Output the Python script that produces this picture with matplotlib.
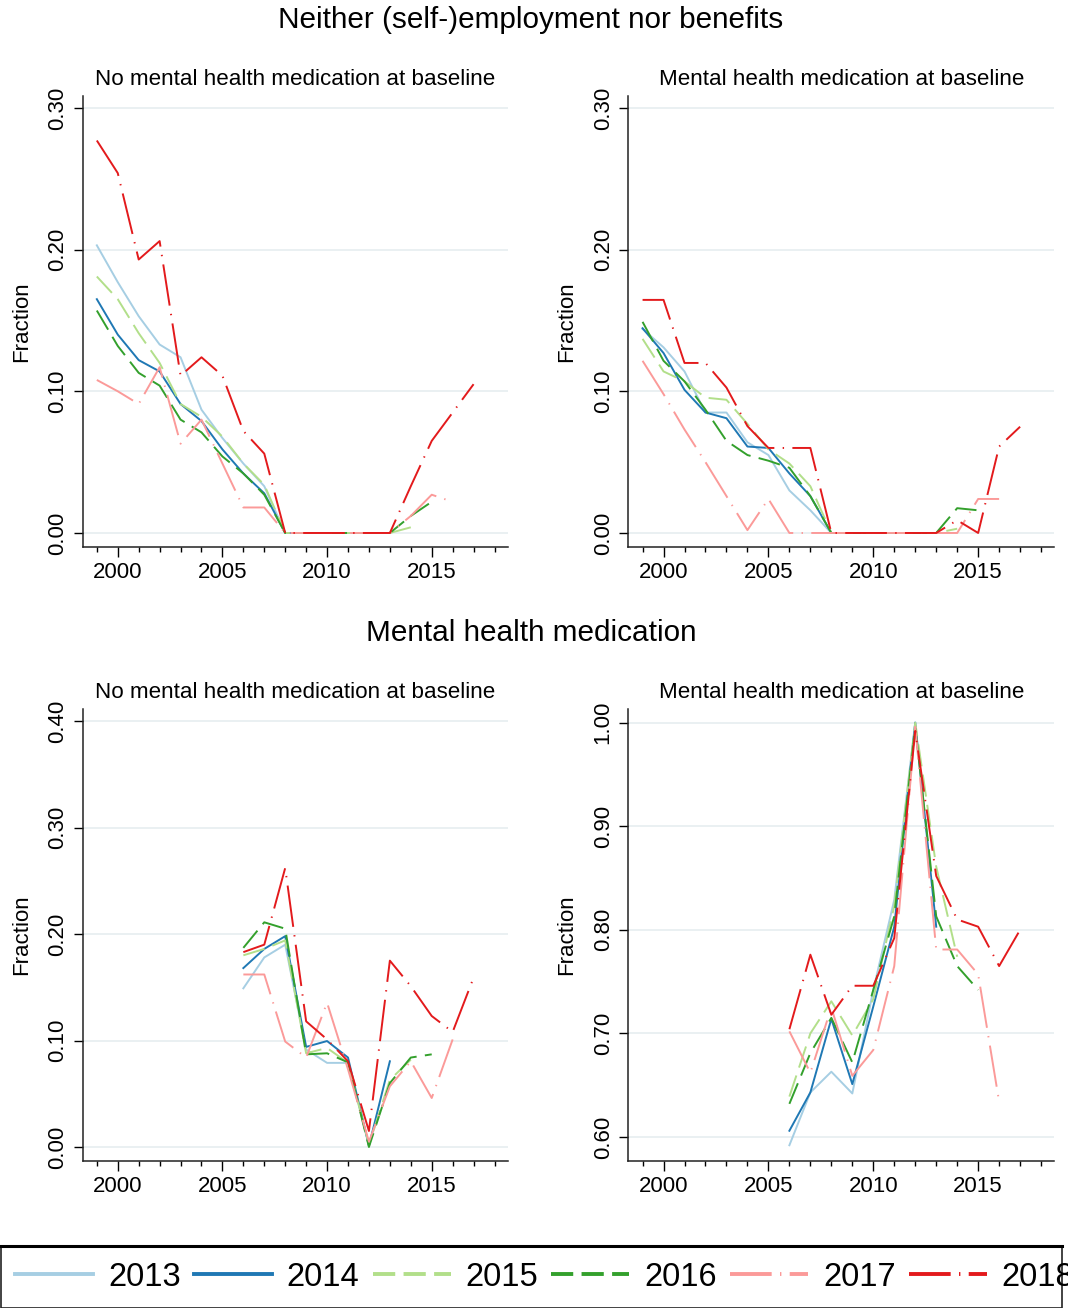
import numpy as np
import matplotlib
matplotlib.use("Agg")
import matplotlib.pyplot as plt
from matplotlib.lines import Line2D
from matplotlib.patches import Rectangle
from matplotlib.ticker import MultipleLocator, FormatStrFormatter

plt.rcParams['font.family'] = ['Liberation Sans', 'DejaVu Sans']
plt.rcParams['lines.scale_dashes'] = False

N = None
cohorts = ['2013', '2014', '2015', '2016', '2017', '2018']
colors = ['#a6cee3', '#1f78b4', '#b2df8a', '#33a02c', '#fb9a99', '#e31a1c']
styles = ['-', '-', (0, (16, 6)), (0, (16, 6)), (0, (30, 6, 1, 6)), (0, (30, 6, 1, 6))]

# employment outcome, years 1999-2017
years_top = list(range(1999, 2018))
emp_no_med = {
    '2013': [0.203, 0.177, 0.153, 0.133, 0.124, 0.087, 0.067, 0.049, 0.033, 0, 0, 0, 0, 0, N, N, N, N, N],
    '2014': [0.165, 0.140, 0.122, 0.114, 0.091, 0.079, 0.059, 0.042, 0.028, 0, 0, 0, 0, 0, 0, N, N, N, N],
    '2015': [0.181, 0.165, 0.141, 0.120, 0.091, 0.082, 0.068, 0.049, 0.034, 0, 0, 0, 0, 0, 0, 0.004, N, N, N],
    '2016': [0.157, 0.132, 0.113, 0.104, 0.080, 0.071, 0.054, 0.042, 0.027, 0, 0, 0, 0, 0, 0, 0.012, 0.022, N, N],
    '2017': [0.108, 0.100, 0.091, 0.117, 0.063, 0.080, 0.049, 0.018, 0.018, 0, 0, 0, 0, 0, 0, 0.012, 0.027, 0.022, N],
    '2018': [0.277, 0.254, 0.193, 0.206, 0.111, 0.124, 0.111, 0.072, 0.056, 0, 0, 0, 0, 0, 0, 0.033, 0.065, 0.085, 0.105],
}
emp_med = {
    '2013': [0.144, 0.131, 0.114, 0.085, 0.085, 0.064, 0.055, 0.030, 0.016, 0, 0, 0, 0, 0, N, N, N, N, N],
    '2014': [0.1445, 0.127, 0.101, 0.085, 0.081, 0.061, 0.060, 0.042, 0.026, 0, 0, 0, 0, 0, 0, N, N, N, N],
    '2015': [0.137, 0.114, 0.107, 0.0955, 0.094, 0.077, 0.059, 0.049, 0.033, 0, 0, 0, 0, 0, 0, 0.003, N, N, N],
    '2016': [0.149, 0.1215, 0.107, 0.087, 0.065, 0.055, 0.051, 0.046, 0.026, 0, 0, 0, 0, 0, 0, 0.0175, 0.016, N, N],
    '2017': [0.1215, 0.098, 0.073, 0.050, 0.026, 0.002, 0.024, 0, 0, 0, 0, 0, 0, 0, 0, 0, 0.024, 0.024, N],
    '2018': [0.1645, 0.1645, 0.120, 0.120, 0.1026, 0.0754, 0.060, 0.060, 0.060, 0, 0, 0, 0, 0, 0, 0.009, 0, 0.061, 0.075],
}

# medication outcome, years 2006-2017
years_bot = list(range(2006, 2018))
med_no_med = {
    '2013': [0.149, 0.178, 0.190, 0.0915, 0.079, 0.079, 0.002, N, N, N, N, N],
    '2014': [0.168, 0.186, 0.198, 0.094, 0.0995, 0.084, 0.001, 0.0805, N, N, N, N],
    '2015': [0.180, 0.186, 0.194, 0.088, 0.093, 0.079, 0.002, 0.063, 0.082, N, N, N],
    '2016': [0.187, 0.211, 0.205, 0.087, 0.088, 0.0795, 0, 0.060, 0.084, 0.087, N, N],
    '2017': [0.162, 0.162, 0.099, 0.084, 0.1355, 0.073, 0.005, 0.057, 0.0805, 0.046, 0.101, N],
    '2018': [0.183, 0.190, 0.262, 0.118, 0.101, 0.0805, 0.015, 0.175, 0.151, 0.123, 0.108, 0.159],
}
med_med = {
    '2013': [0.592, 0.643, 0.663, 0.642, 0.742, 0.829, 1.0, N, N, N, N, N],
    '2014': [0.606, 0.643, 0.714, 0.651, 0.726, 0.803, 1.0, 0.803, N, N, N, N],
    '2015': [0.639, 0.700, 0.731, 0.698, 0.733, 0.823, 1.0, 0.861, 0.774, N, N, N],
    '2016': [0.632, 0.681, 0.715, 0.672, 0.742, 0.813, 0.996, 0.813, 0.765, 0.742, N, N],
    '2017': [0.702, 0.662, 0.725, 0.659, 0.684, 0.765, 0.996, 0.781, 0.781, 0.757, 0.634, N],
    '2018': [0.704, 0.776, 0.718, 0.746, 0.746, 0.792, 0.992, 0.852, 0.810, 0.803, 0.765, 0.800],
}

W, H = 1068, 1308
fig = plt.figure(figsize=(W / 100, H / 100), dpi=100)


def px_rect(l, r, b, t):
    return [l / W, 1 - b / H, (r - l) / W, (b - t) / H]


def draw_panel(rect, years, data, ylim, yticks, subtitle):
    ax = fig.add_axes(rect)
    for c, col, ls in zip(cohorts, colors, styles):
        vals = np.array([np.nan if v is None else v for v in data[c]], dtype=float)
        ax.plot(years, vals, color=col, lw=1.4, linestyle=ls)
    ax.set_xlim(1998.32, 2018.63)
    ax.set_ylim(*ylim)
    ax.set_yticks(yticks)
    ax.yaxis.set_major_formatter(FormatStrFormatter('%.2f'))
    ax.xaxis.set_major_locator(MultipleLocator(5))
    ax.set_xticks(range(1999, 2019), minor=True)
    ax.yaxis.grid(True, color='#e6eef0', lw=1.2)
    ax.set_axisbelow(True)
    for s in ['top', 'right']:
        ax.spines[s].set_visible(False)
    for s in ['left', 'bottom']:
        ax.spines[s].set_color('#222222')
        ax.spines[s].set_linewidth(1.1)
    ax.tick_params(axis='x', which='major', length=7, width=1.0, labelsize=16, pad=3.5)
    ax.tick_params(axis='x', which='minor', length=3.5, width=1.0)
    ax.tick_params(axis='y', which='major', length=6.5, width=1.0, labelsize=16, pad=4)
    for lab in ax.get_yticklabels():
        lab.set_rotation(90)
        lab.set_va('center')
    ax.set_ylabel('Fraction', fontsize=16, labelpad=11)
    ax.set_title(subtitle, fontsize=16.1, pad=8)
    return ax


top_y = (-0.0099, 0.3084)
draw_panel(px_rect(82.6, 507.7, 547, 96), years_top, emp_no_med, top_y,
           [0, 0.1, 0.2, 0.3], 'No mental health medication at baseline')
draw_panel(px_rect(628.3, 1054.3, 547, 96), years_top, emp_med, top_y,
           [0, 0.1, 0.2, 0.3], 'Mental health medication at baseline')
draw_panel(px_rect(82.6, 507.7, 1161, 709), years_bot, med_no_med, (-0.01315, 0.4113),
           [0, 0.1, 0.2, 0.3, 0.4], 'No mental health medication at baseline')
draw_panel(px_rect(628.3, 1054.3, 1161, 709), years_bot, med_med, (0.5768, 1.0132),
           [0.6, 0.7, 0.8, 0.9, 1.0], 'Mental health medication at baseline')

fig.text(531 / W, 1 - 20 / H, 'Neither (self-)employment nor benefits',
         ha='center', va='center', fontsize=21.4)
fig.text(531 / W, 1 - 633 / H, 'Mental health medication',
         ha='center', va='center', fontsize=21.4)

# legend box (the last label runs past the box edge, as in the original)
fig.patches.append(Rectangle((1 / W, 0), 1061 / W, 1 - 1246 / H, transform=fig.transFigure,
                             fill=False, edgecolor='#222222', lw=1.2))
fig.lines.append(Line2D([0, 1062 / W], [1 - 1246 / H] * 2, transform=fig.transFigure,
                        color='black', lw=2.2))

handles = [Line2D([], [], color=col, lw=2.8, linestyle=ls) for col, ls in zip(colors, styles)]
fig.legend(handles, cohorts, ncol=6, loc='center left', bbox_to_anchor=(15 / W, 1 - 1277 / H),
           frameon=False, fontsize=23.5, handlelength=2.39, handletextpad=0.46,
           columnspacing=0.4, borderpad=0, borderaxespad=0)

fig.savefig('out.png', dpi=100)
